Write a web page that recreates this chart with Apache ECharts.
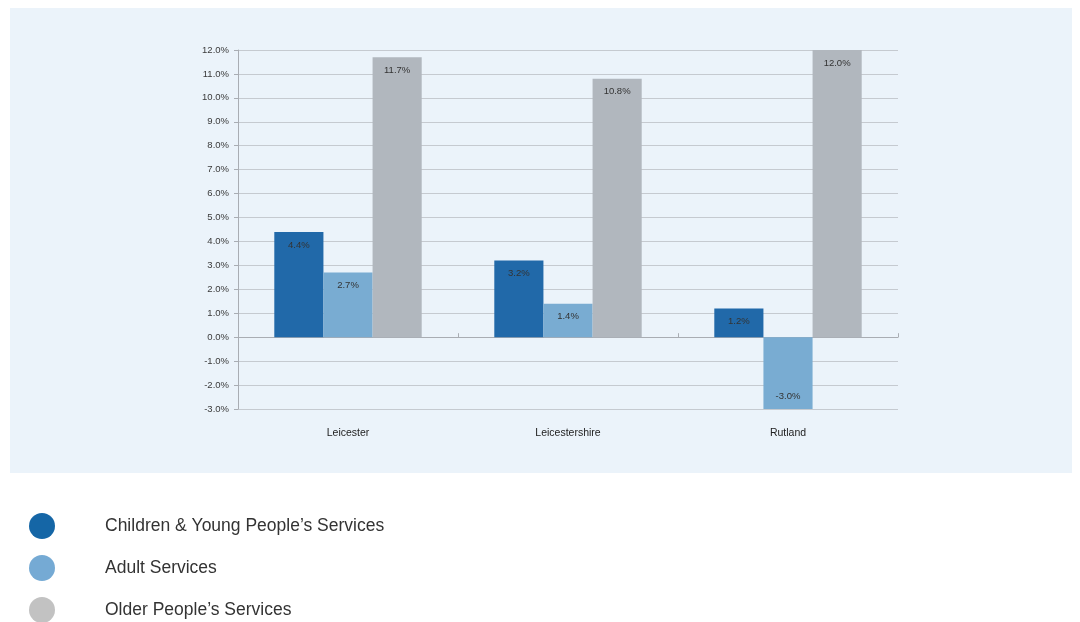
<!DOCTYPE html>
<html>
<head>
<meta charset="utf-8">
<style>
html,body{margin:0;padding:0;background:#ffffff;}
#chart{width:1080px;height:622px;}
</style>
<script src="https://cdn.jsdelivr.net/npm/echarts@6/dist/echarts.min.js"></script>
</head>
<body>
<div id="chart"></div>
<script>
const categories = ['Leicester', 'Leicestershire', 'Rutland'];
const seriesNames = ["Children & Young People\u2019s Services", 'Adult Services', "Older People\u2019s Services"];
const childrenValues = [4.4, 3.2, 1.2];
const adultValues = [2.7, 1.4, -3.0];
const olderValues = [11.7, 10.8, 12.0];
const yMin = -3, yMax = 12, yInterval = 1;

const barColors = ['#2169a9', '#79acd2', '#b1b7be'];
const legendColors = ['#1566a6', '#75aad4', '#c2c2c2'];

const chart = echarts.init(document.getElementById('chart'));

function makeData(values) {
  return values.map(v => v < 0 ? { value: v, label: { position: 'insideBottom' } } : v);
}

const labelStyle = {
  show: true,
  position: 'insideTop',
  distance: 8,
  fontSize: 9.5,
  color: '#333',
  fontFamily: 'Liberation Sans, Arial, sans-serif',
  formatter: p => p.value.toFixed(1) + '%'
};

const valuesList = [childrenValues, adultValues, olderValues];

chart.setOption({
  animation: false,
  backgroundColor: '#ffffff',
  graphic: [{
    type: 'rect',
    z: -10,
    silent: true,
    shape: { x: 10, y: 8, width: 1062, height: 465 },
    style: { fill: '#ebf3fa' }
  }],
  grid: { left: 238, right: 182, top: 50, bottom: 213 },
  legend: {
    orient: 'vertical',
    left: 24,
    top: 508,
    height: 200,
    padding: 5,
    itemWidth: 26,
    itemHeight: 26,
    itemGap: 16,
    icon: 'circle',
    textStyle: { fontSize: 17.5, color: '#333', fontFamily: 'Liberation Sans, Arial, sans-serif', padding: [0, 0, 0, 45] },
    data: seriesNames.map((n, i) => ({ name: n, itemStyle: { color: legendColors[i] } }))
  },
  xAxis: [{
    type: 'category',
    data: categories,
    position: 'bottom',
    axisLine: { show: false, onZero: false },
    axisTick: { show: false },
    axisLabel: { margin: 19, fontSize: 10.5, color: '#222', fontFamily: 'Liberation Sans, Arial, sans-serif' }
  }, {
    type: 'category',
    data: categories,
    position: 'top',
    axisLine: { show: true, onZero: true, lineStyle: { color: '#a9adb3', width: 1 } },
    axisTick: { show: true, length: 4, lineStyle: { color: '#a9adb3' } },
    axisLabel: { show: false }
  }],
  yAxis: {
    type: 'value',
    min: yMin,
    max: yMax,
    interval: yInterval,
    axisLine: { show: true, lineStyle: { color: '#a9adb3' } },
    axisTick: { show: true, length: 4, lineStyle: { color: '#a9adb3' } },
    axisLabel: {
      margin: 9,
      fontSize: 9.5,
      color: '#3a3a3a',
      fontFamily: 'Liberation Sans, Arial, sans-serif',
      formatter: v => v.toFixed(1) + '%'
    },
    splitLine: { show: true, lineStyle: { color: '#c5cad0', width: 1 } }
  },
  series: seriesNames.map((n, i) => ({
    name: n,
    type: 'bar',
    xAxisIndex: 0,
    data: makeData(valuesList[i]),
    barGap: '0%',
    barCategoryGap: '33%',
    itemStyle: { color: barColors[i] },
    label: labelStyle
  }))
});
</script>
</body>
</html>
